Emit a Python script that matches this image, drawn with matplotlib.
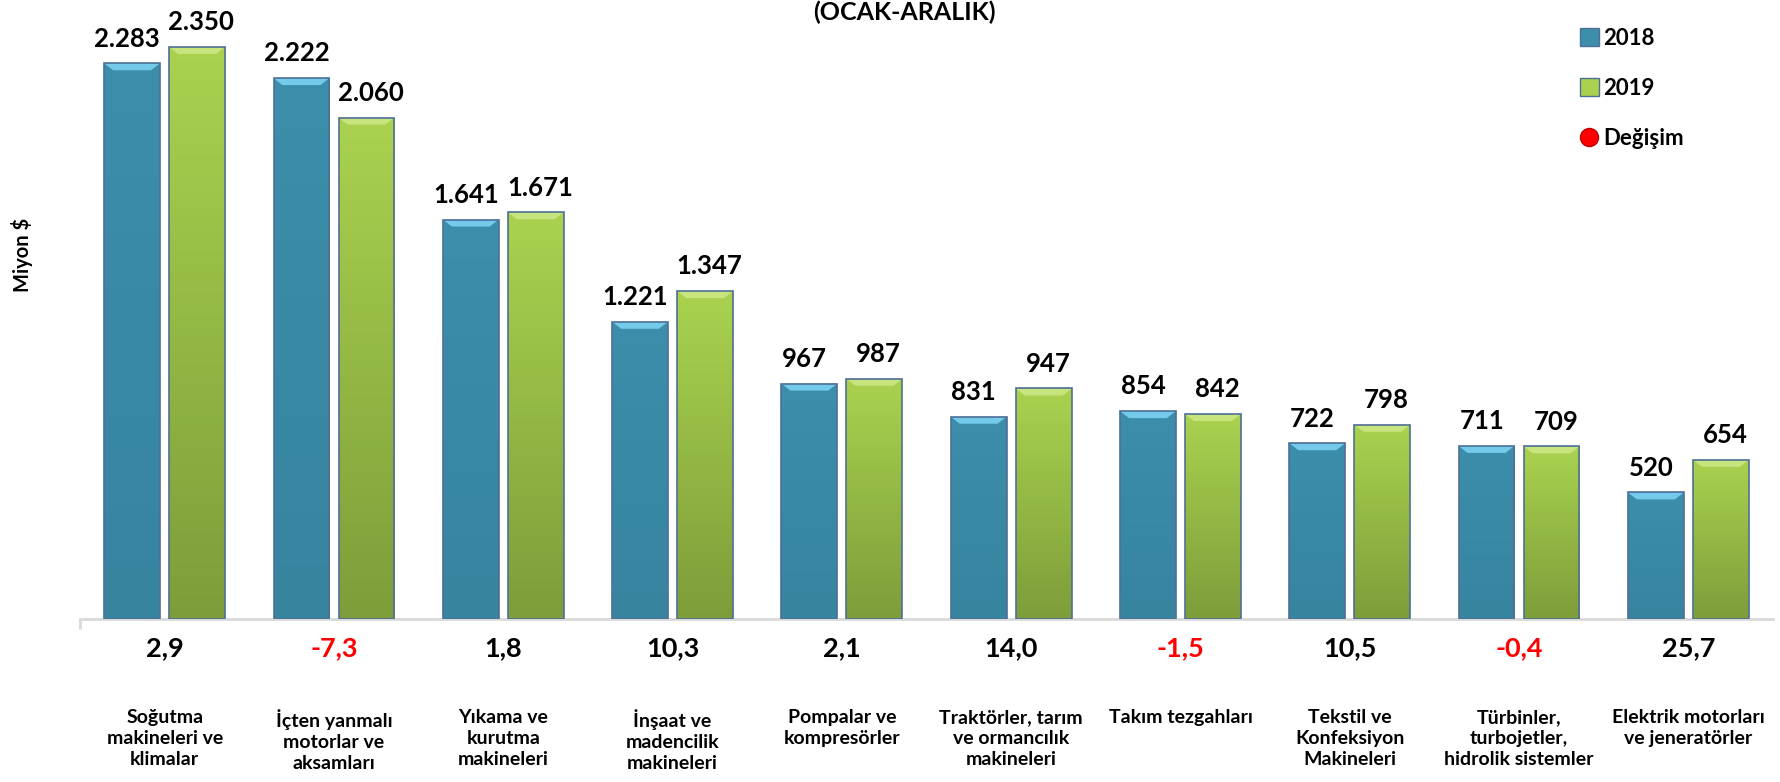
import numpy as np
import matplotlib.pyplot as plt
from matplotlib.colors import LinearSegmentedColormap
from matplotlib.patches import Polygon, Rectangle
from matplotlib.lines import Line2D

plt.rcParams['font.family'] = ['Lato', 'DejaVu Sans']
plt.rcParams['font.weight'] = 'bold'

# data
categories = [
    "Soğutma\nmakineleri ve\nklimalar",
    "İçten yanmalı\nmotorlar ve\naksamları",
    "Yıkama ve\nkurutma\nmakineleri",
    "İnşaat ve\nmadencilik\nmakineleri",
    "Pompalar ve\nkompresörler",
    "Traktörler, tarım\nve ormancılık\nmakineleri",
    "Takım tezgahları",
    "Tekstil ve\nKonfeksiyon\nMakineleri",
    "Türbinler,\nturbojetler,\nhidrolik sistemler",
    "Elektrik motorları\nve jeneratörler",
]
v2018 = [2283, 2222, 1641, 1221, 967, 831, 854, 722, 711, 520]
v2019 = [2350, 2060, 1671, 1347, 987, 947, 842, 798, 709, 654]
degisim = [2.9, -7.3, 1.8, 10.3, 2.1, 14.0, -1.5, 10.5, -0.4, 25.7]

W, H = 1781, 782
fig = plt.figure(figsize=(W / 100, H / 100), dpi=100)
ax = fig.add_axes([80 / W, 163 / H, (1773 - 80) / W, 619 / H])

x = np.arange(len(categories))
bw = 0.33
off = 0.192
ymax = 2543


def draw_bars(xpos, vals, top, bottom, cap):
    bars = ax.bar(xpos, vals, bw, color='none', edgecolor='none', zorder=3)
    cmap = LinearSegmentedColormap.from_list('g', [bottom, top])
    grad = np.linspace(0, 1, 256).reshape(-1, 1)
    dx = 9 / 169.3
    dy = 7 / 0.2434
    for b in bars:
        x0, w, h = b.get_x(), b.get_width(), b.get_height()
        im = ax.imshow(grad, extent=(x0, x0 + w, 0, h), origin='lower', cmap=cmap,
                       aspect='auto', zorder=3, interpolation='bilinear')
        im.set_clip_path(b)
        # bevel cap on top
        ax.add_patch(Polygon([(x0, h), (x0 + w, h), (x0 + w - dx, h - dy), (x0 + dx, h - dy)],
                             closed=True, facecolor=cap, edgecolor='none', zorder=4))
        ax.add_patch(Rectangle((x0, 0), w, h, facecolor='none', edgecolor='#4F6F96',
                               linewidth=1.2, zorder=5))
    return bars


b18 = draw_bars(x - off, v2018, '#3C8EAA', '#37849F', '#74CAEA')
b19 = draw_bars(x + off, v2019, '#AAD24F', '#7D9D3A', '#C8E47E')

# value labels
for xs, vals, dx in ((x - off, v2018, -3.5), (x + off, v2019, 3)):
    for xi, v in zip(xs, vals):
        ax.annotate(f"{v:,}".replace(",", "."), (xi, v), xytext=(dx, 12),
                    textcoords='offset points', ha='center', va='baseline',
                    fontsize=18.5, fontweight='bold', color='black')

# change labels below axis
for xi, d in zip(x, degisim):
    ax.text(xi, -29 / 619, f"{d:.1f}".replace(".", ","), transform=ax.get_xaxis_transform(),
            ha='center', va='center', fontsize=19.5, fontweight='bold',
            color='#FF0000' if d < 0 else 'black')

# category labels
for xi, c in zip(x, categories):
    ax.text(xi, -90 / 619, c, transform=ax.get_xaxis_transform(), ha='center', va='top',
            fontsize=14, fontweight='bold', linespacing=1.3)

ax.set_xlim(-0.5, len(categories) - 0.5)
ax.set_ylim(0, ymax)
for s in ('top', 'right', 'left'):
    ax.spines[s].set_visible(False)
ax.spines['bottom'].set_color('#D9D9D9')
ax.spines['bottom'].set_linewidth(2)
ax.set_yticks([])
ax.set_xticks([-0.5])
ax.set_xticklabels([''])
ax.tick_params(axis='x', length=7, width=2, color='#D9D9D9')

fig.text(22 / W, 1 - 255 / H, 'Miyon $', rotation=90, ha='center', va='center',
         fontsize=14.5, fontweight='bold')
fig.text(904 / W, 1 - 20 / H, '(OCAK-ARALIK)', ha='center', va='baseline',
         fontsize=18, fontweight='bold')

handles = [
    Rectangle((0, 0), 1, 1, facecolor='#3C8EAA', edgecolor='#4F6F96'),
    Rectangle((0, 0), 1, 1, facecolor='#AAD24F', edgecolor='#4F6F96'),
    Line2D([], [], marker='o', linestyle='none', markersize=13,
           markerfacecolor='#FF0000', markeredgecolor='#C00000'),
]
fig.legend(handles, ['2018', '2019', 'Değişim'], loc='upper left',
           bbox_to_anchor=(1580 / W, 1 - 28 / H), frameon=False, fontsize=16,
           labelspacing=1.3, handlelength=0.85, handleheight=0.85, handletextpad=0.2,
           borderpad=0, borderaxespad=0)

fig.savefig('out.png', dpi=100)
